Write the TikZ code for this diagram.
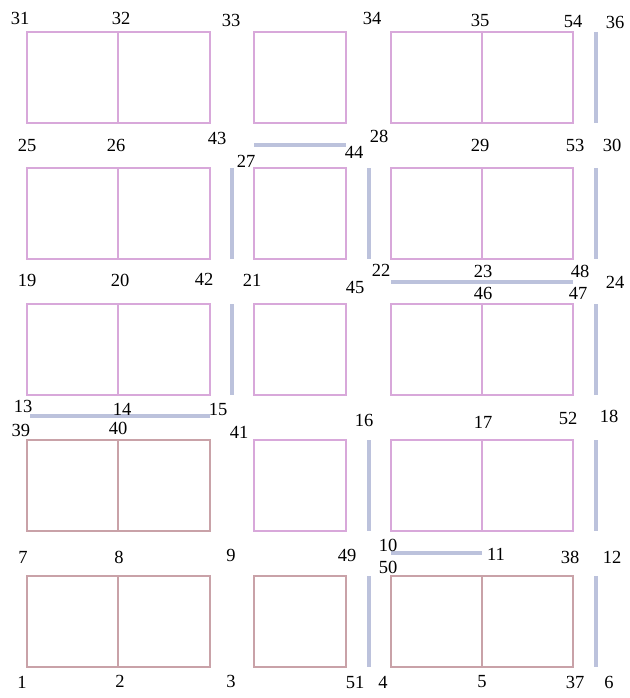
\documentclass[tikz,border=0pt]{standalone}
\usepackage{fontspec}
\setmainfont{Liberation Serif}
\definecolor{roompink}{HTML}{D8A8DA}
\definecolor{roombrown}{HTML}{C9A2A8}
\definecolor{wallblue}{HTML}{BCC2DC}
\tikzset{
	pinkroom/.style={draw=roompink,line width=1.4pt},
	brownroom/.style={draw=roombrown,line width=1.4pt},
	wall/.style={draw=wallblue,line width=3.5pt},
	tag/.style={inner sep=0pt,font=\fontsize{18.5}{18.5}\selectfont}
}
\begin{document}
\begin{tikzpicture}[x=1pt,y=-1pt]
			\useasboundingbox (0,0) rectangle (629,698);
			\def\RoomH{91}
			\foreach \Top/\StyleA/\StyleB/\StyleC in {32/pinkroom/pinkroom/pinkroom,168/pinkroom/pinkroom/pinkroom,304/pinkroom/pinkroom/pinkroom,440/brownroom/pinkroom/pinkroom,576/brownroom/brownroom/brownroom}
				{
					\draw[\StyleA] (27,\Top) rectangle ++(183,\RoomH) (118,\Top) -- ++(0,\RoomH);
					\draw[\StyleB] (254,\Top) rectangle ++(92,\RoomH);
					\draw[\StyleC] (391,\Top) rectangle ++(182,\RoomH) (482,\Top) -- ++(0,\RoomH);
				}
			\foreach \X/\Top in {232/168,232/304,369/168,369/440,369/576,596/32,596/168,596/304,596/440,596/576}
				\draw[wall] (\X,\Top) -- ++(0,\RoomH);
			\foreach \Y/\From/\To in {145/254/346,282/391/573,416/30/210,553/391/482}
				\draw[wall] (\From,\Y) -- (\To,\Y);
			\foreach \Num/\X/\Y in {31/20/18,32/121/18,33/231/20,34/372/18,35/480/20,54/573/22,36/615/22,
				25/27/145,26/116/145,43/217/138,27/246/161,28/379/136,44/354/152,29/480/145,53/575/145,30/612/145,
				19/27/280,20/120/280,42/204/279,21/252/280,45/355/287,22/381/270,23/483/271,48/580/271,46/483/293,47/578/293,24/615/282,
				13/23/406,14/122/409,15/218/409,39/21/430,40/118/428,41/239/432,16/364/420,17/483/422,52/568/418,18/609/416,
				7/23/557,8/119/557,9/231/555,49/347/555,10/388/545,50/388/567,11/496/554,38/570/557,12/612/557,
				1/22/682,2/120/681,3/231/681,51/355/682,4/383/682,5/482/682,37/575/682,6/609/682}
				\node[tag] (p\Num) at (\X,\Y) {\Num};
		\end{tikzpicture}
\end{document}
